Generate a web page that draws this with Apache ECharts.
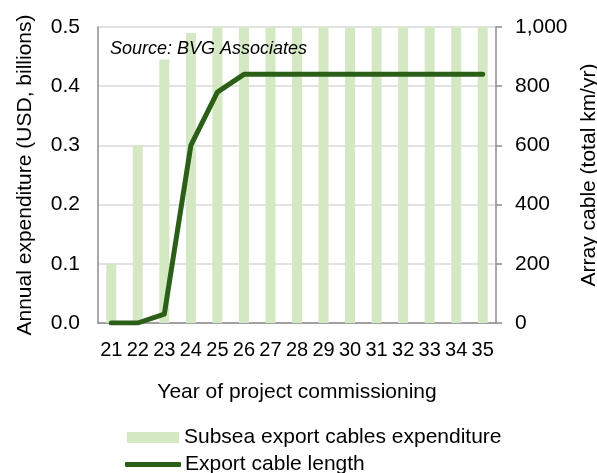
<!DOCTYPE html>
<html>
<head>
<meta charset="utf-8">
<script src="https://cdn.jsdelivr.net/npm/echarts@6/dist/echarts.min.js"></script>
<style>
  html, body { margin: 0; padding: 0; background: #fff; }
  #chart { width: 597px; height: 473px; }
</style>
</head>
<body>
<div id="chart"></div>
<script>
  // 年份（项目投运年份）
  const years = ['21', '22', '23', '24', '25', '26', '27', '28', '29', '30', '31', '32', '33', '34', '35']
  // 海底输出电缆支出（十亿美元）
  const expenditure = [0.1, 0.3, 0.445, 0.49, 0.5, 0.5, 0.5, 0.5, 0.5, 0.5, 0.5, 0.5, 0.5, 0.5, 0.5]
  // 输出电缆长度（km/yr）
  const cableLength = [0, 0, 30, 600, 780, 840, 840, 840, 840, 840, 840, 840, 840, 840, 840]

  const font = 'Liberation Sans, Arial, sans-serif'
  const fs = 21
  const chart = echarts.init(document.getElementById('chart'))
  chart.setOption({
    backgroundColor: '#fff',
    animation: false,
    textStyle: { fontFamily: font, color: '#000' },
    title: {
      text: 'Source: BVG Associates',
      left: 105,
      top: 35,
      textStyle: { fontSize: 18, fontStyle: 'italic', fontWeight: 'normal', color: '#000', fontFamily: font }
    },
    grid: { left: 98, right: 101, top: 27, bottom: 150, containLabel: false, outerBoundsMode: 'none' },
    legend: [{
      left: 122,
      top: 422,
      itemWidth: 52,
      itemHeight: 11,
      icon: 'rect',
      textStyle: { fontSize: fs, color: '#000', fontFamily: font },
      data: ['Subsea export cables expenditure']
    }, {
      left: 120,
      top: 449,
      itemWidth: 56,
      itemHeight: 5,
      icon: 'roundRect',
      textStyle: { fontSize: fs, color: '#000', fontFamily: font, padding: [0, 0, 0, -1] },
      data: ['Export cable length']
    }],
    xAxis: [{
      type: 'category',
      data: years,
      name: 'Year of project commissioning',
      nameLocation: 'middle',
      nameGap: 59,
      nameTextStyle: { fontSize: fs, color: '#000' },
      axisLine: { lineStyle: { color: '#8c8c8c', width: 1.5 } },
      axisTick: { show: false },
      axisLabel: { fontSize: 20, color: '#000', margin: 17, interval: 0 }
    }],
    yAxis: [{
      type: 'value',
      min: 0,
      max: 0.5,
      interval: 0.1,
      name: 'Annual expenditure (USD, billions)',
      nameLocation: 'middle',
      nameGap: 62,
      nameTextStyle: { fontSize: fs, color: '#000' },
      axisLine: { show: true, lineStyle: { color: '#8c8c8c', width: 1.5 } },
      axisTick: { show: false },
      axisLabel: { fontSize: fs, color: '#000', margin: 18, formatter: v => v.toFixed(1) },
      splitLine: { lineStyle: { color: '#d9d9d9', width: 1.5 } }
    }, {
      type: 'value',
      min: 0,
      max: 1000,
      interval: 200,
      name: 'Array cable (total km/yr)',
      nameLocation: 'middle',
      nameGap: 78,
      nameTextStyle: { fontSize: fs, color: '#000' },
      axisLine: { show: true, lineStyle: { color: '#8c8c8c', width: 1.5 } },
      axisTick: { show: true, length: 6, lineStyle: { color: '#8c8c8c', width: 1.5 } },
      axisLabel: { fontSize: fs, color: '#000', margin: 19, formatter: v => v.toLocaleString('en-US') },
      splitLine: { show: false }
    }],
    series: [{
      name: 'Subsea export cables expenditure',
      type: 'bar',
      yAxisIndex: 0,
      barWidth: 10,
      itemStyle: { color: '#d5e8c4' },
      data: expenditure
    }, {
      name: 'Export cable length',
      type: 'line',
      yAxisIndex: 1,
      symbol: 'none',
      lineStyle: { color: '#2b5e17', width: 5, cap: 'round', join: 'round' },
      itemStyle: { color: '#2b5e17' },
      data: cableLength
    }]
  })
</script>
</body>
</html>
